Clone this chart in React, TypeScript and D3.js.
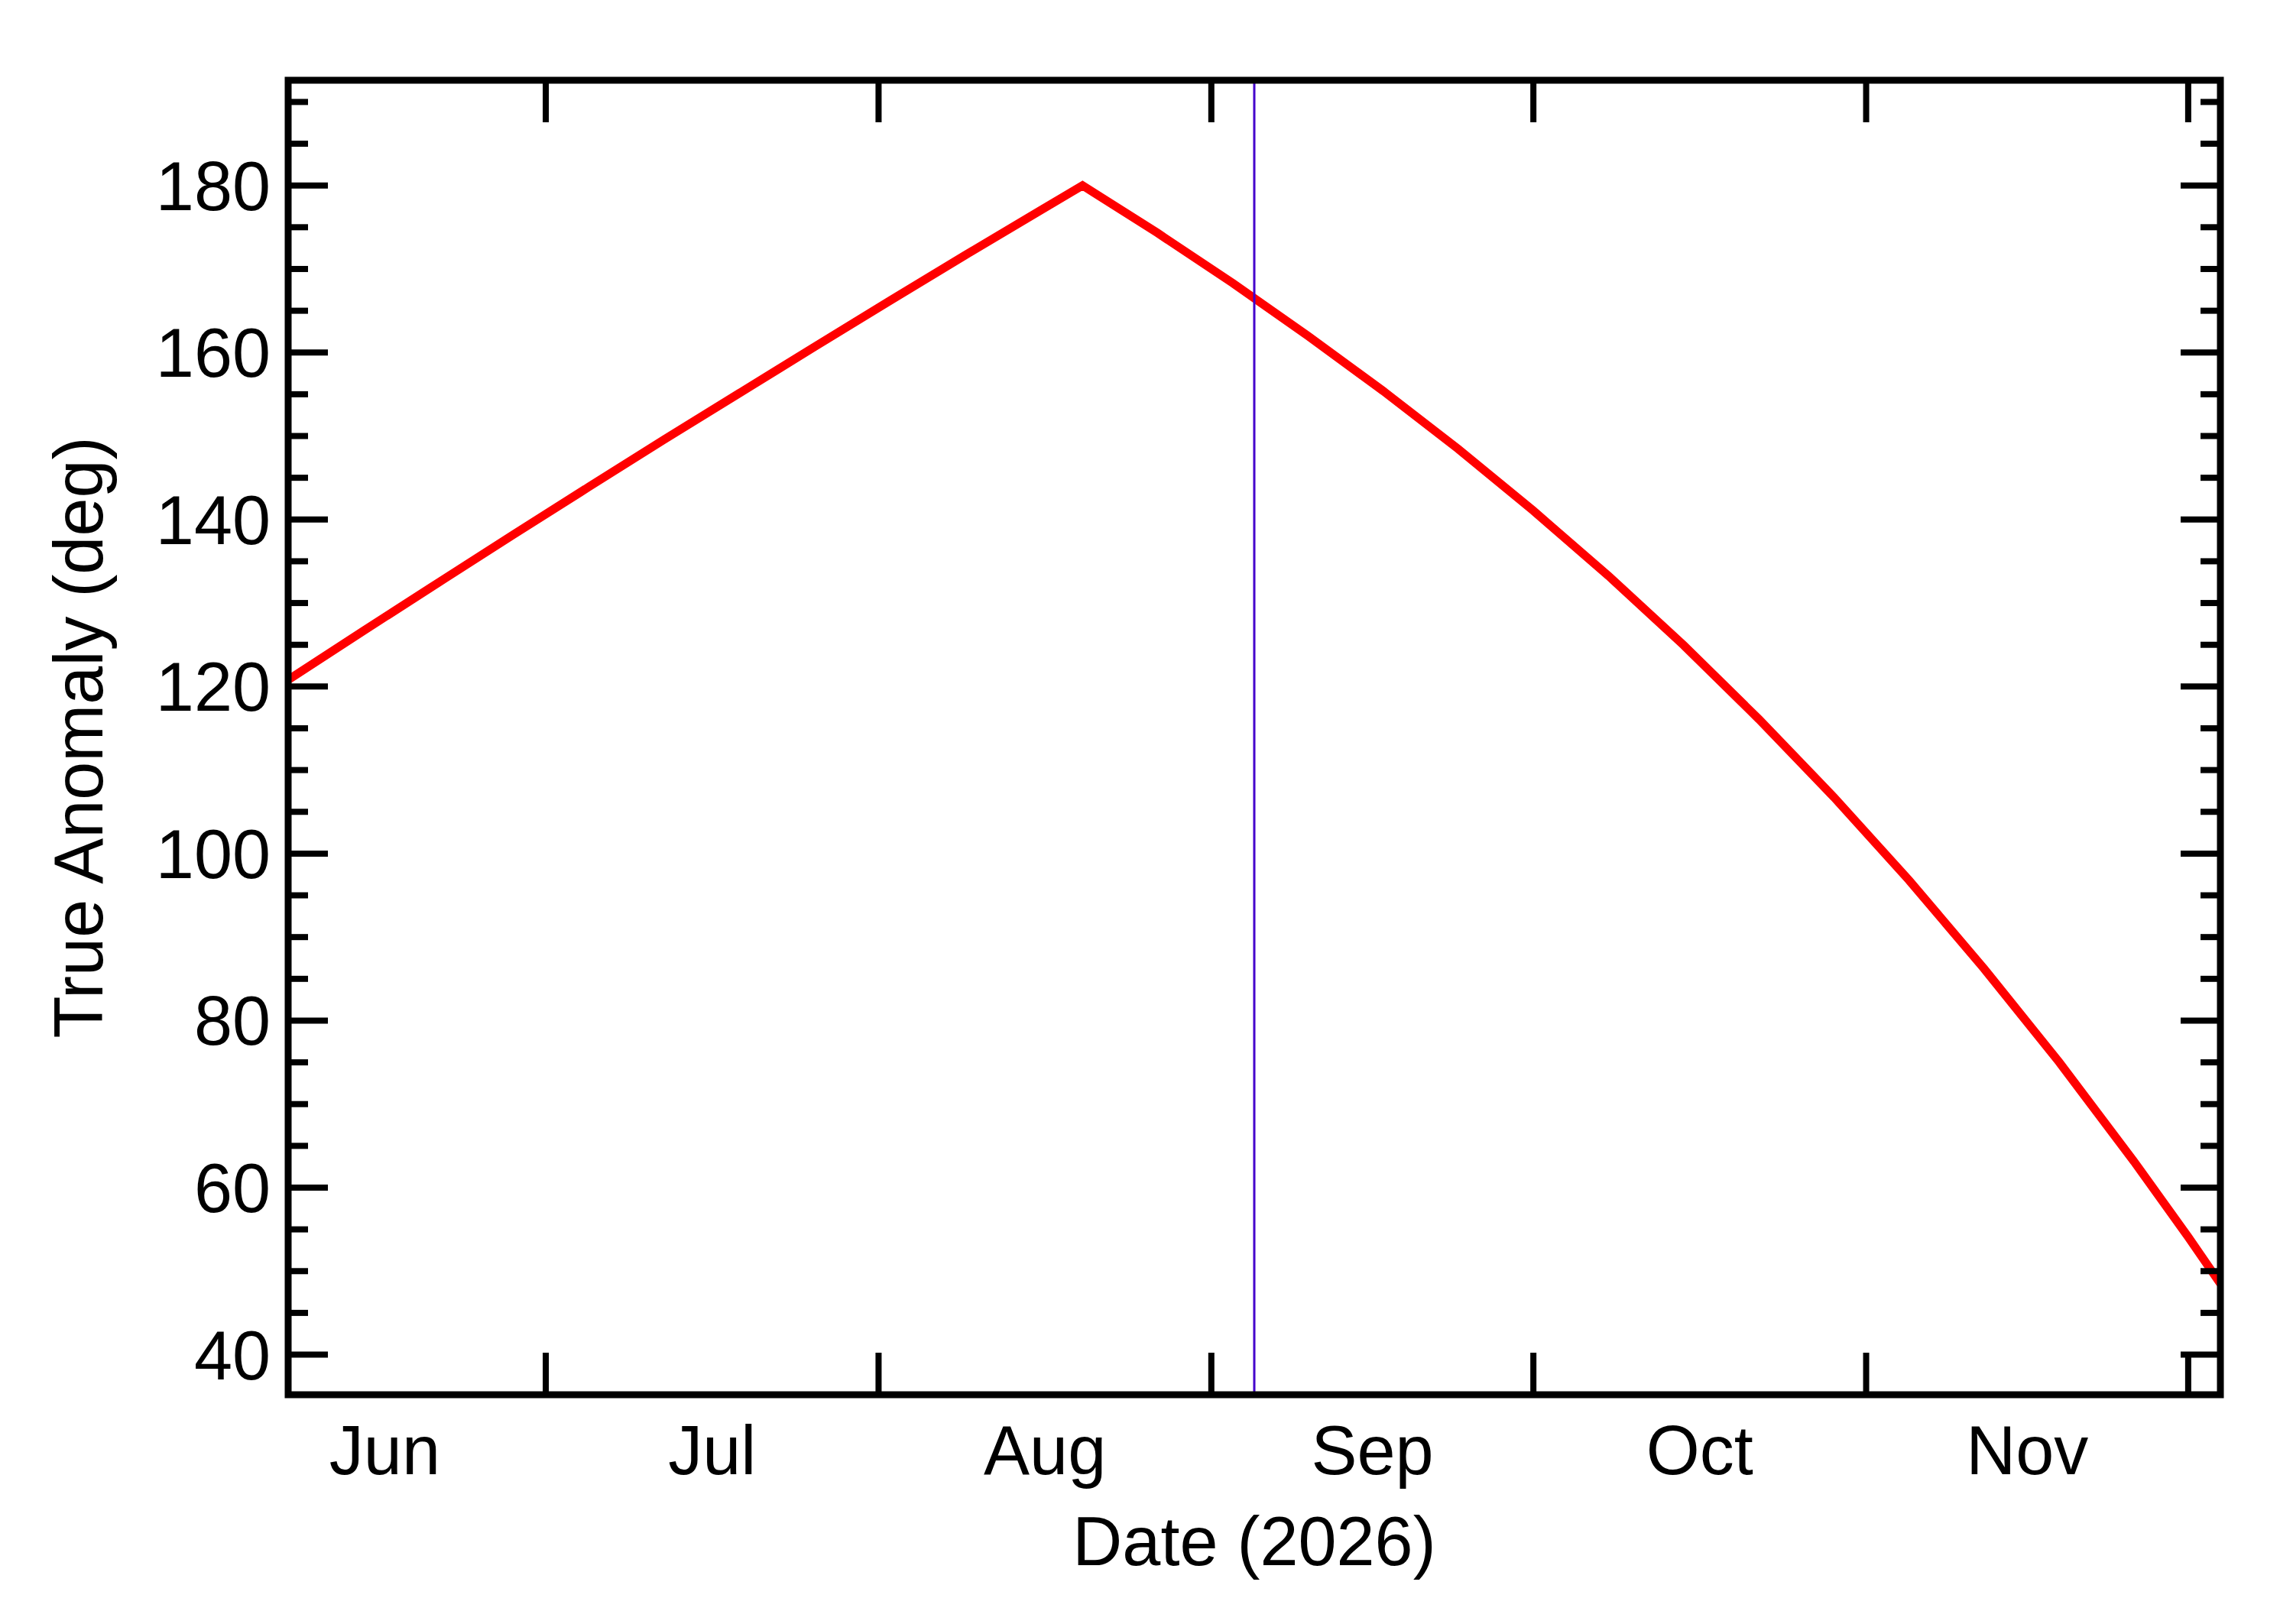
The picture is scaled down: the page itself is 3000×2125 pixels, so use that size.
import { useRef, useEffect } from "react";
import * as d3 from "d3";

// sampled off the reference curve (true anomaly, degrees)
const DATES = [
  "2026-06-07", "2026-06-14", "2026-06-21", "2026-06-28", "2026-07-05",
  "2026-07-12", "2026-07-19", "2026-07-26", "2026-08-02", "2026-08-09",
  "2026-08-16", "2026-08-20", "2026-08-27", "2026-09-03", "2026-09-10",
  "2026-09-17", "2026-09-24", "2026-10-01", "2026-10-08", "2026-10-15",
  "2026-10-22", "2026-10-29", "2026-11-05", "2026-11-12", "2026-11-19",
  "2026-11-26", "2026-12-01", "2026-12-04",
];
const ANOMALY = [
  120.8, 126.65, 132.45, 138.2, 143.9,
  149.55, 155.1, 160.65, 166.15, 171.6,
  176.95, 180.0, 174.3, 168.3, 162.0,
  155.4, 148.45, 141.05, 133.25, 124.95,
  116.1, 106.75, 96.8, 86.2, 75.0,
  63.05, 54.1, 48.5,
];

const X_DOMAIN = ["2026-06-07", "2026-12-04"];
const Y_DOMAIN = [35.2, 192.6];
const Y_TICKS = [40, 60, 80, 100, 120, 140, 160, 180];
const MONTH_STARTS = [
  "2026-06-01", "2026-07-01", "2026-08-01", "2026-09-01",
  "2026-10-01", "2026-11-01", "2026-12-01",
];
const MONTH_LABELS = ["Jun", "Jul", "Aug", "Sep", "Oct", "Nov"];
const CURRENT_DATE = "2026-09-05";

const WIDTH = 3000;
const HEIGHT = 2125;
const FONT = "'Liberation Sans', Arial, Helvetica, sans-serif";

export default function App() {
  const svgRef = useRef<SVGSVGElement>(null);

  useEffect(() => {
    if (!svgRef.current) return;
    const svg = d3.select(svgRef.current);
    svg.selectAll("*").remove();

    const parse = d3.utcParse("%Y-%m-%d");
    const left = 377, right = 2905, top = 105, bottom = 1825;

    const x = d3.scaleUtc()
      .domain(X_DOMAIN.map((d) => parse(d) as Date))
      .range([left, right]);
    const y = d3.scaleLinear().domain(Y_DOMAIN).range([bottom, top]);

    svg.append("rect").attr("width", WIDTH).attr("height", HEIGHT).attr("fill", "#fff");

    svg.append("defs").append("clipPath").attr("id", "plot-clip")
      .append("rect")
      .attr("x", left).attr("y", top)
      .attr("width", right - left).attr("height", bottom - top);

    // data line
    const pts = DATES.map((d, i) => ({ date: parse(d) as Date, value: ANOMALY[i] }));
    const line = d3.line<{ date: Date; value: number }>()
      .x((d) => x(d.date))
      .y((d) => y(d.value));

    svg.append("path")
      .datum(pts)
      .attr("clip-path", "url(#plot-clip)")
      .attr("d", line)
      .attr("fill", "none")
      .attr("stroke", "#ff0000")
      .attr("stroke-width", 11)
      .attr("stroke-linejoin", "miter");

    // current date marker
    const cx = x(parse(CURRENT_DATE) as Date);
    svg.append("line")
      .attr("x1", cx).attr("x2", cx)
      .attr("y1", top).attr("y2", bottom)
      .attr("stroke", "#4400cc")
      .attr("stroke-width", 3);

    // frame
    svg.append("rect")
      .attr("x", left).attr("y", top)
      .attr("width", right - left).attr("height", bottom - top)
      .attr("fill", "none")
      .attr("stroke", "#000")
      .attr("stroke-width", 9);

    const ticks = svg.append("g").attr("stroke", "#000").attr("stroke-width", 8);

    // y ticks, both sides (minor every 5)
    d3.range(40, 191, 5).forEach((v) => {
      const len = v % 20 === 0 ? 52 : 26;
      const yy = y(v);
      ticks.append("line").attr("x1", left).attr("x2", left + len).attr("y1", yy).attr("y2", yy);
      ticks.append("line").attr("x1", right).attr("x2", right - len).attr("y1", yy).attr("y2", yy);
    });

    // x ticks at month boundaries, top and bottom
    const starts = MONTH_STARTS.map((d) => parse(d) as Date);
    starts.slice(1).forEach((d) => {
      const xx = x(d);
      ticks.append("line").attr("x1", xx).attr("x2", xx).attr("y1", bottom).attr("y2", bottom - 55);
      ticks.append("line").attr("x1", xx).attr("x2", xx).attr("y1", top).attr("y2", top + 55);
    });

    const labels = svg.append("g")
      .style("font-family", FONT)
      .style("font-size", "90px")
      .attr("fill", "#000");

    Y_TICKS.forEach((v) => {
      labels.append("text")
        .attr("x", 354)
        .attr("y", y(v) + 32)
        .attr("text-anchor", "end")
        .text(String(v));
    });

    // month names centred in each month
    MONTH_LABELS.forEach((m, i) => {
      const mid = (x(starts[i]) + x(starts[i + 1])) / 2;
      labels.append("text")
        .attr("x", mid)
        .attr("y", 1929)
        .attr("text-anchor", "middle")
        .text(m);
    });

    labels.append("text")
      .attr("x", (left + right) / 2)
      .attr("y", 2048)
      .attr("text-anchor", "middle")
      .text("Date (2026)");

    labels.append("text")
      .attr("transform", `translate(134,${(top + bottom) / 2}) rotate(-90)`)
      .attr("text-anchor", "middle")
      .text("True Anomaly (deg)");
  }, []);

  return (
    <svg
      ref={svgRef}
      width={WIDTH}
      height={HEIGHT}
      style={{ position: "absolute", left: 0, top: 0, display: "block" }}
    />
  );
}
